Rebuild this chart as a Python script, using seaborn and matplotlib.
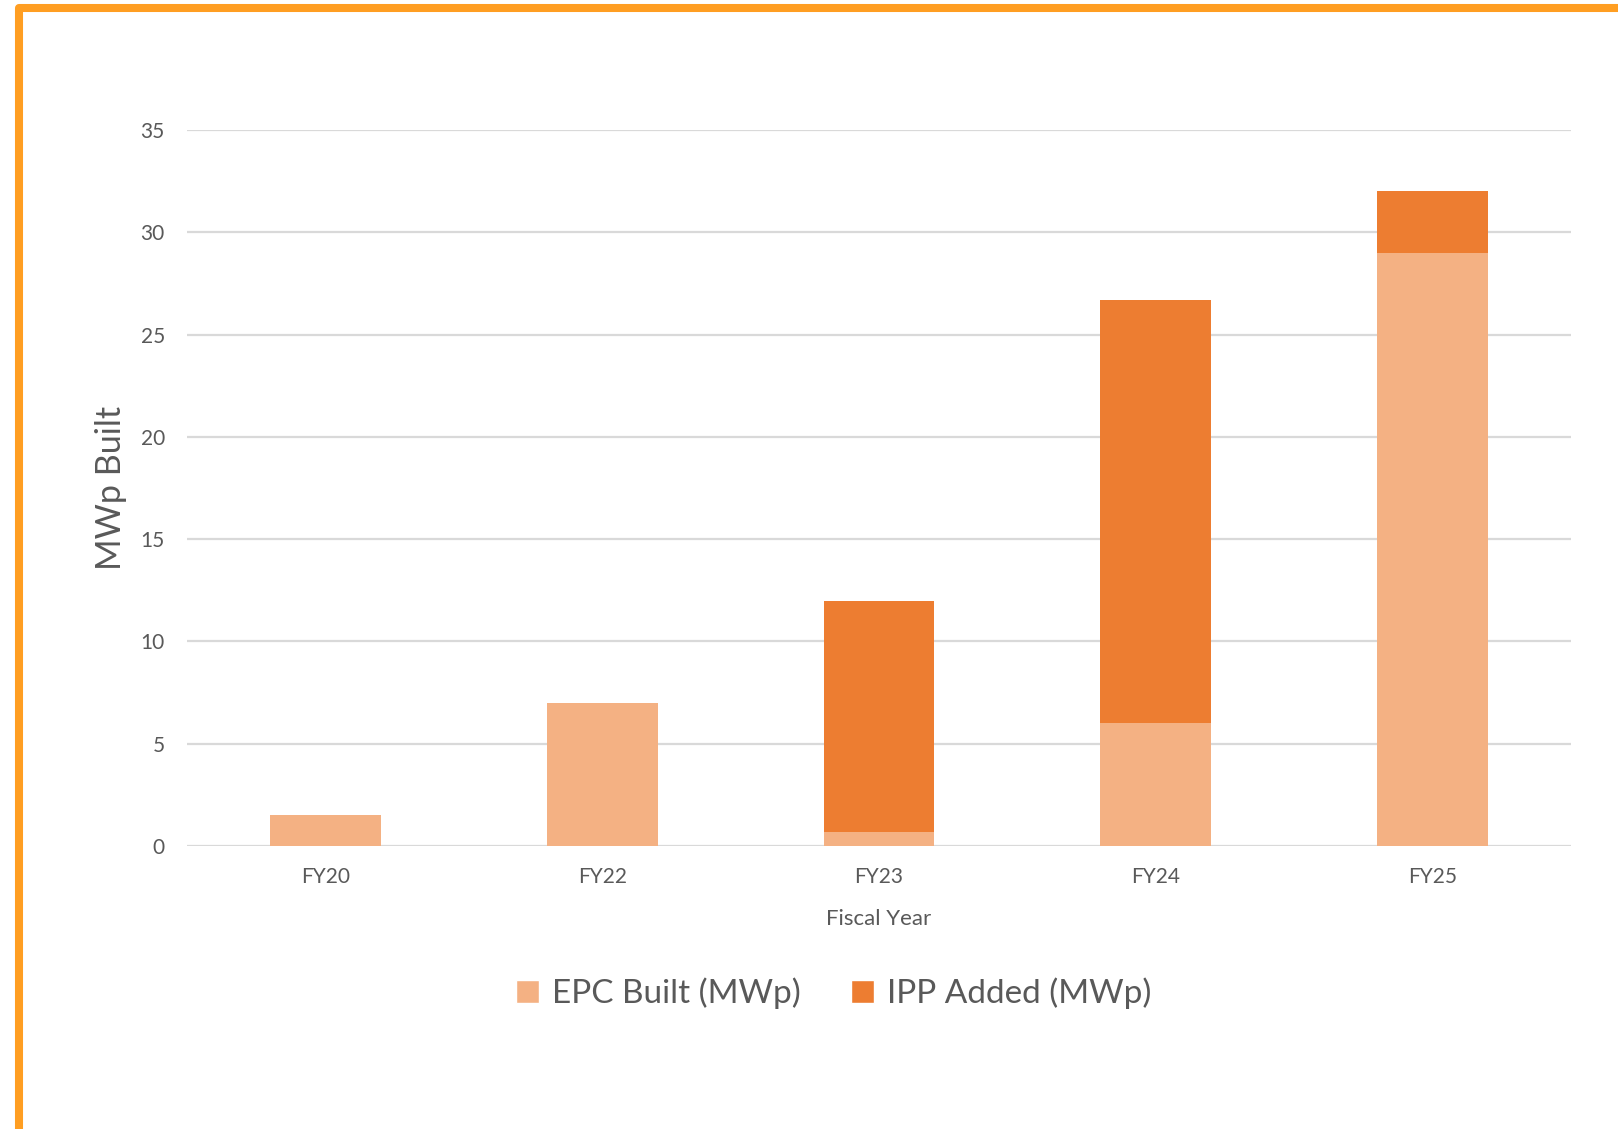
import matplotlib
matplotlib.use("Agg")
import matplotlib.pyplot as plt
from matplotlib.patches import Patch, Rectangle
import seaborn as sns
import pandas as pd

# Data
years = ["FY20", "FY22", "FY23", "FY24", "FY25"]
epc_built = [1.5, 7.0, 0.7, 6.0, 29.0]
ipp_added = [0.0, 0.0, 11.3, 20.7, 3.0]

EPC_COLOR = "#F4B183"
IPP_COLOR = "#ED7D31"
TEXT_COLOR = "#595959"
GRID_COLOR = "#D9D9D9"
FRAME_COLOR = "#FF9E22"

sns.set_theme(style="white")
plt.rcParams["font.family"] = ["Lato", "DejaVu Sans"]

df = pd.DataFrame({
    "year": years,
    "epc": epc_built,
    "ipp": ipp_added,
})
df["total"] = df["epc"] + df["ipp"]

W, H, DPI = 1618, 1129, 100
fig = plt.figure(figsize=(W / DPI, H / DPI), dpi=DPI)
ax = fig.add_axes([187 / W, 1 - 846 / H, (1571 - 187) / W, (846 - 130) / H])

# Stacked bars: full height in IPP colour, EPC portion drawn over the base
sns.barplot(data=df, x="year", y="total", color=IPP_COLOR, width=0.4,
            saturation=1, linewidth=0, ax=ax, zorder=3)
sns.barplot(data=df, x="year", y="epc", color=EPC_COLOR, width=0.4,
            saturation=1, linewidth=0, ax=ax, zorder=4)

ax.set_ylim(0, 35)
ax.set_yticks(range(0, 36, 5))
ax.set_xlim(-0.5, len(years) - 0.5)
ax.yaxis.grid(True, color=GRID_COLOR, linewidth=1.6, zorder=0)
ax.set_axisbelow(True)
for s in ax.spines.values():
    s.set_visible(False)
ax.tick_params(axis="both", length=0, labelsize=15, colors=TEXT_COLOR)
ax.tick_params(axis="y", pad=16)
ax.tick_params(axis="x", pad=15)

ax.set_xlabel("Fiscal Year", fontsize=16, color=TEXT_COLOR, labelpad=16)
ax.set_ylabel("MWp Built", fontsize=24.5, color=TEXT_COLOR)
ax.yaxis.set_label_coords(-0.0434, 0.5)

handles = [Patch(facecolor=EPC_COLOR, label="EPC Built (MWp)"),
           Patch(facecolor=IPP_COLOR, label="IPP Added (MWp)")]
fig.legend(handles=handles, loc="center", bbox_to_anchor=(834 / W, 1 - 993 / H),
           ncol=2, frameon=False, fontsize=24, labelcolor=TEXT_COLOR,
           handlelength=0.68, handleheight=0.68, handletextpad=0.4,
           columnspacing=1.5)

# Orange frame running off the right and bottom edges
frame = Rectangle((19 / W, -0.2), 1.5, 1.2 - 8.3 / H, transform=fig.transFigure,
                  fill=False, edgecolor=FRAME_COLOR, linewidth=5.8,
                  joinstyle="round", zorder=10)
fig.patches.append(frame)

fig.savefig("out.png", dpi=DPI, facecolor="white")
